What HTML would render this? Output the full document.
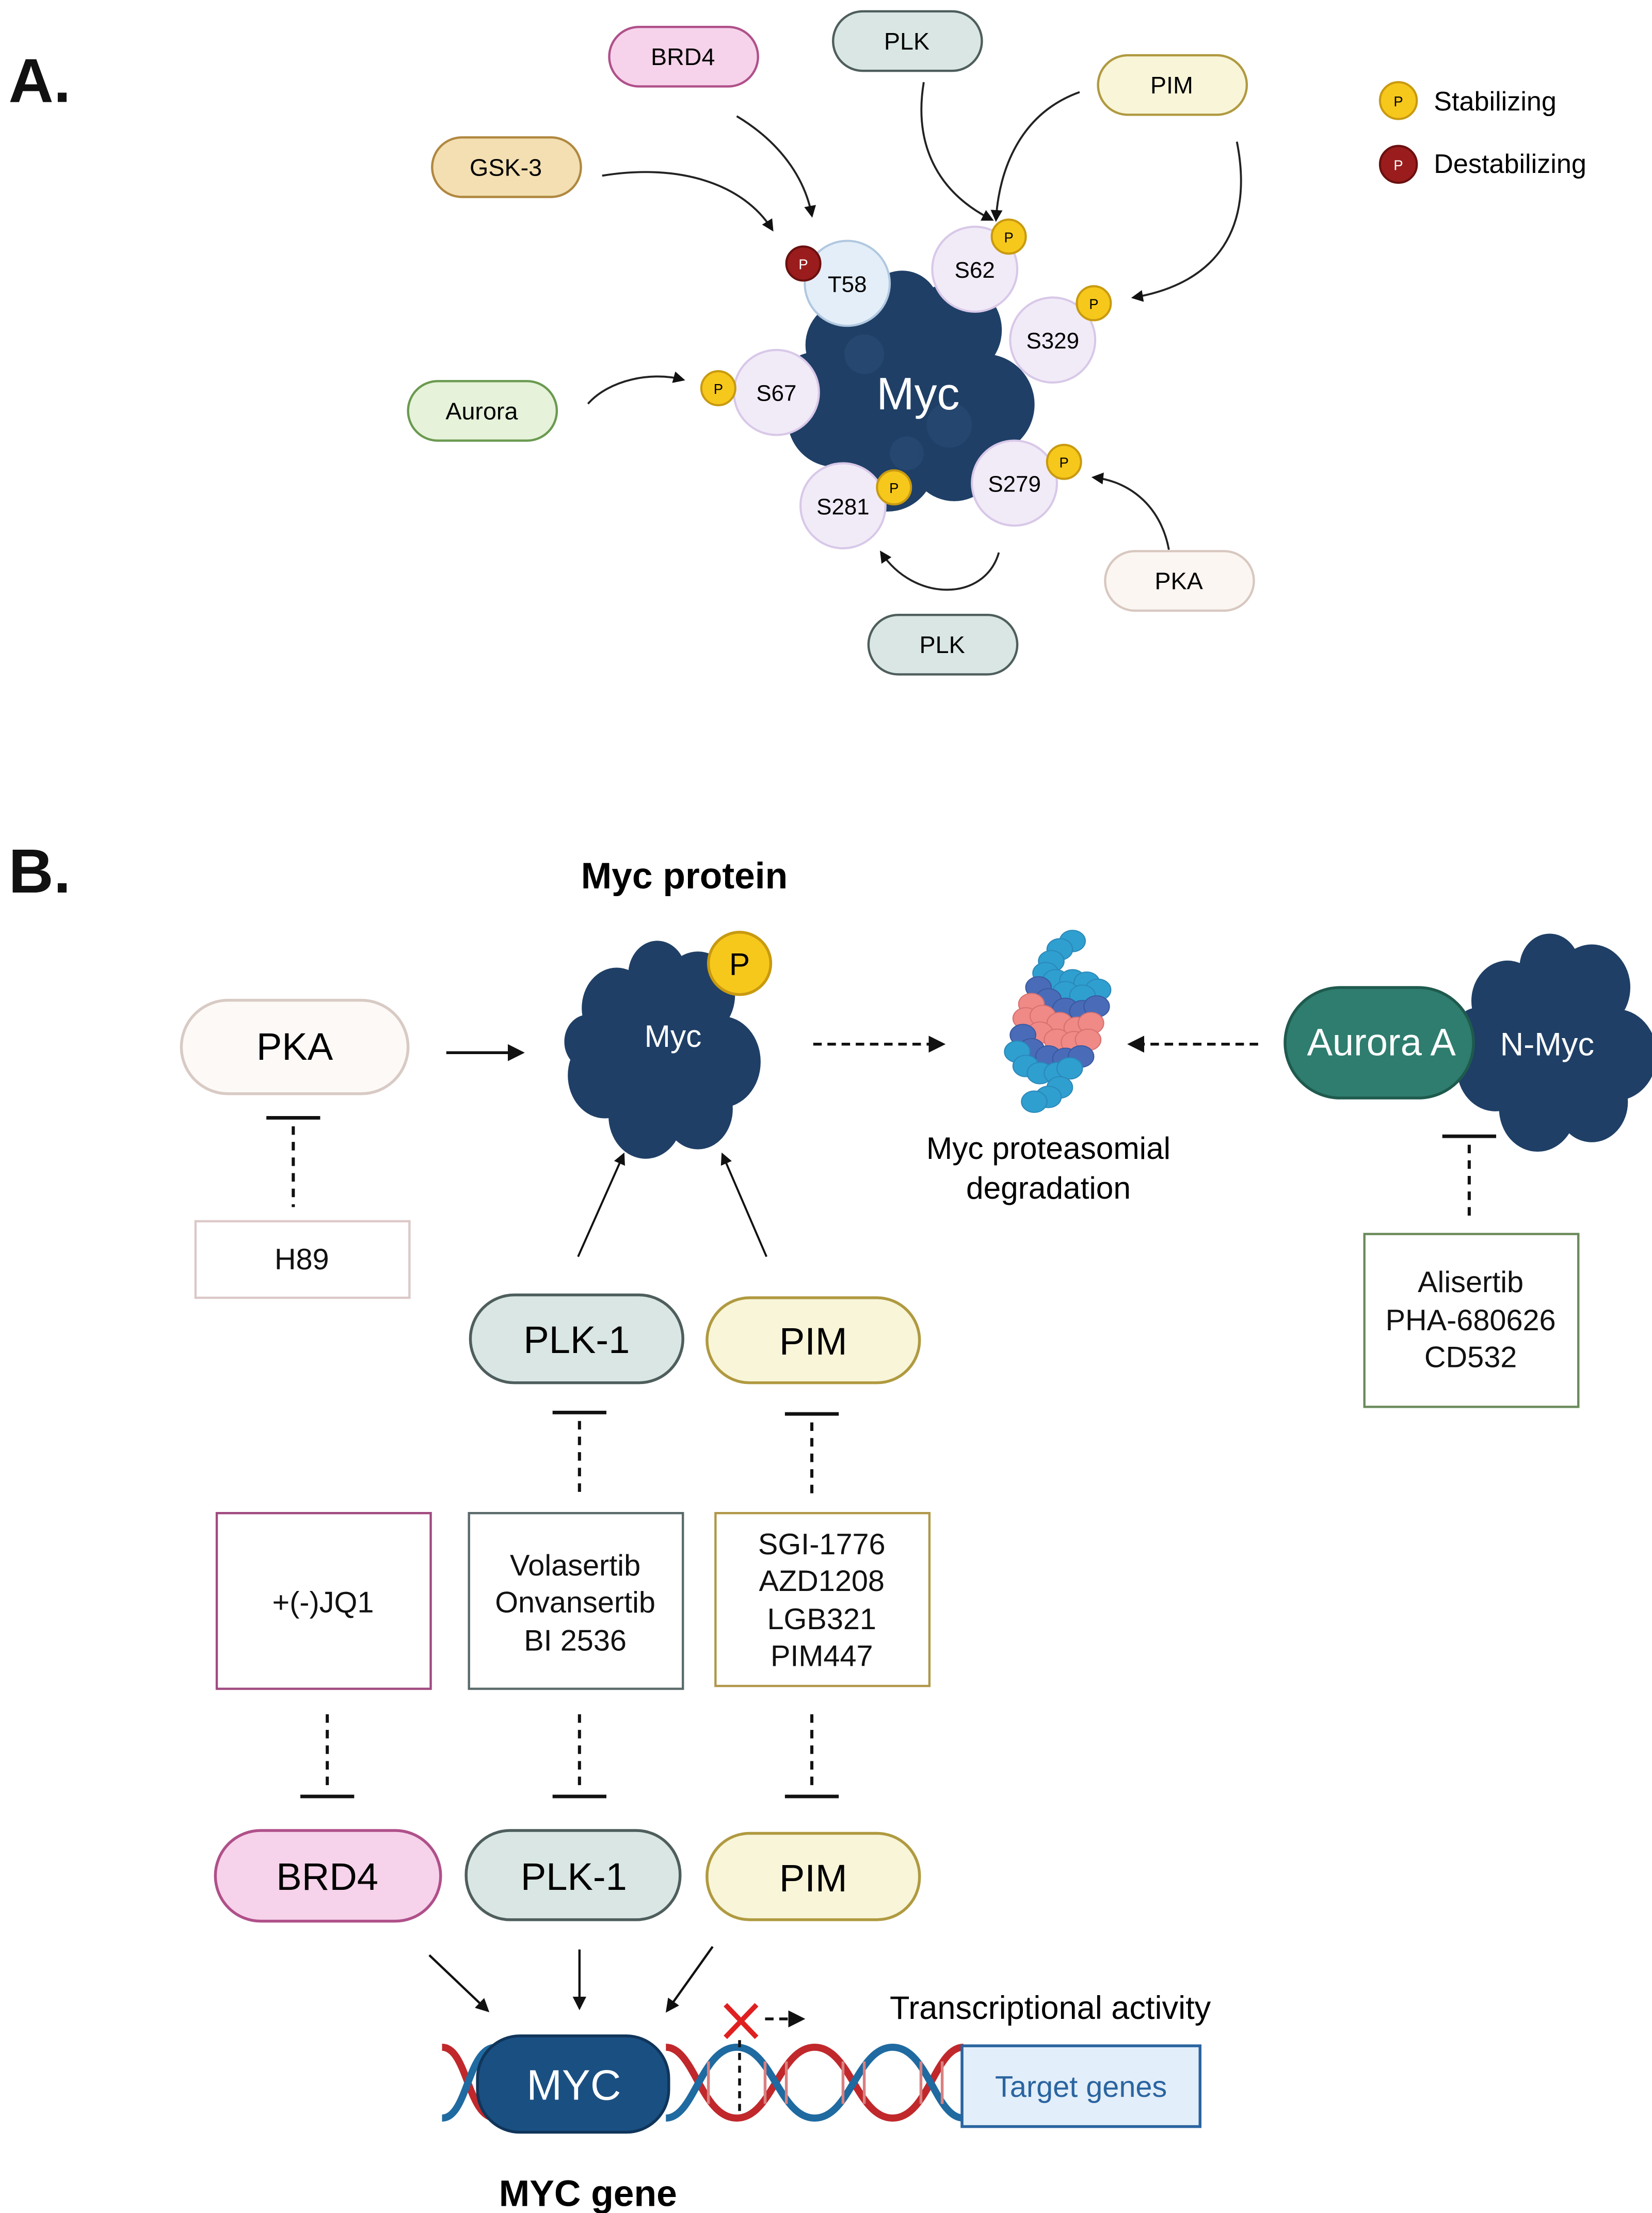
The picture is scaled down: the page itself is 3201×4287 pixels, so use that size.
<!DOCTYPE html>
<html><head><meta charset="utf-8"><style>
html,body{margin:0;padding:0;background:#fff}
svg{display:block}
text{font-family:"Liberation Sans",sans-serif}
</style></head><body>
<svg width="3201" height="4287" viewBox="0 0 1166 1562" preserveAspectRatio="none" xmlns="http://www.w3.org/2000/svg">
<defs>
<marker id="ah" viewBox="0 0 10 10" refX="8" refY="5" markerWidth="6" markerHeight="6" orient="auto"><path d="M0,0L10,5L0,10z" fill="#111"/></marker>
<g id="blob">
<circle cx="0" cy="0" r="48" /><circle cx="-40" cy="-30" r="30"/><circle cx="30" cy="-40" r="32"/><circle cx="50" cy="10" r="34"/><circle cx="-50" cy="20" r="32"/><circle cx="-15" cy="50" r="32"/><circle cx="30" cy="45" r="30"/><circle cx="-5" cy="-55" r="25"/><circle cx="-65" cy="-5" r="20"/>
</g>
</defs>
<rect width="1166" height="1562" fill="#fff"/>
<g font-size="14" fill="#111" stroke="none">
<text x="6" y="72" font-size="44" font-weight="bold">A.</text>
<text x="6" y="630" font-size="44" font-weight="bold">B.</text>
</g>

<!-- Panel A arrows -->
<g fill="none" stroke="#222" stroke-width="1.4" marker-end="url(#ah)">
<path d="M425,124 C480,115 525,130 545,162"/>
<path d="M520,82 C550,100 568,125 573,152"/>
<path d="M652,58 C645,100 660,135 700,155"/>
<path d="M762,65 C720,80 705,120 703,155"/>
<path d="M873,100 C885,160 860,200 800,210"/>
<path d="M415,285 C430,268 460,262 482,268"/>
<path d="M825,388 C820,360 800,340 772,337"/>
<path d="M705,390 C695,425 645,425 622,390"/>
</g>

<!-- Panel A pills -->
<g font-size="17" text-anchor="middle" stroke-width="1.6">
<rect x="430" y="19" width="105" height="42" rx="21" fill="#f6d3ea" stroke="#b0508a"/><text x="482" y="46">BRD4</text>
<rect x="588" y="8" width="105" height="42" rx="21" fill="#d9e6e3" stroke="#4e5e5c"/><text x="640" y="35">PLK</text>
<rect x="775" y="39" width="105" height="42" rx="21" fill="#f8f5d8" stroke="#b09a40"/><text x="827" y="66">PIM</text>
<rect x="305" y="97" width="105" height="42" rx="21" fill="#f3dfb2" stroke="#b08840"/><text x="357" y="124">GSK-3</text>
<rect x="288" y="269" width="105" height="42" rx="21" fill="#e6f2d9" stroke="#6a9a50"/><text x="340" y="296">Aurora</text>
<rect x="780" y="389" width="105" height="42" rx="21" fill="#fbf6f2" stroke="#d8c8c0"/><text x="832" y="416">PKA</text>
<rect x="613" y="434" width="105" height="42" rx="21" fill="#d9e6e3" stroke="#4e5e5c"/><text x="665" y="461">PLK</text>
</g>

<!-- Myc blob A -->
<g fill="#1f3f66" transform="translate(642,275) scale(1.05)"><use href="#blob"/></g>
<g fill="#2a4c76" opacity="0.6"><circle cx="610" cy="250" r="14"/><circle cx="670" cy="300" r="16"/><circle cx="640" cy="320" r="12"/></g>
<text x="648" y="289" font-size="32" fill="#fff" text-anchor="middle">Myc</text>

<g font-size="16" text-anchor="middle" stroke-width="1.5">
<circle cx="598" cy="200" r="30" fill="#e4eef8" stroke="#b0c8e0"/><text x="598" y="206">T58</text>
<circle cx="688" cy="190" r="30" fill="#f1ebf8" stroke="#d8c8e8"/><text x="688" y="196">S62</text>
<circle cx="743" cy="240" r="30" fill="#f1ebf8" stroke="#d8c8e8"/><text x="743" y="246">S329</text>
<circle cx="548" cy="277" r="30" fill="#f1ebf8" stroke="#d8c8e8"/><text x="548" y="283">S67</text>
<circle cx="595" cy="357" r="30" fill="#f1ebf8" stroke="#d8c8e8"/><text x="595" y="363">S281</text>
<circle cx="716" cy="341" r="30" fill="#f1ebf8" stroke="#d8c8e8"/><text x="716" y="347">S279</text>
</g>
<g font-size="10" text-anchor="middle" stroke-width="1.5">
<circle cx="567" cy="186" r="12" fill="#9b1c1c" stroke="#6a1010"/><text x="567" y="190" fill="#fff">P</text>
<circle cx="712" cy="167" r="12" fill="#f7c81c" stroke="#c89a10"/><text x="712" y="171">P</text>
<circle cx="772" cy="214" r="12" fill="#f7c81c" stroke="#c89a10"/><text x="772" y="218">P</text>
<circle cx="507" cy="274" r="12" fill="#f7c81c" stroke="#c89a10"/><text x="507" y="278">P</text>
<circle cx="631" cy="344" r="12" fill="#f7c81c" stroke="#c89a10"/><text x="631" y="348">P</text>
<circle cx="751" cy="326" r="12" fill="#f7c81c" stroke="#c89a10"/><text x="751" y="330">P</text>
<circle cx="987" cy="71" r="13" fill="#f7c81c" stroke="#c89a10"/><text x="987" y="75">P</text>
<circle cx="987" cy="116" r="13" fill="#9b1c1c" stroke="#6a1010"/><text x="987" y="120" fill="#fff">P</text>
</g>
<text x="1012" y="78" font-size="19">Stabilizing</text>
<text x="1012" y="122" font-size="19">Destabilizing</text>

<!-- Panel B -->
<text x="483" y="627" font-size="26" font-weight="bold" text-anchor="middle">Myc protein</text>
<g font-size="27" text-anchor="middle" stroke-width="2">
<rect x="128" y="706" width="160" height="66" rx="33" fill="#fdf9f6" stroke="#d8cac4"/><text x="208" y="748">PKA</text>
<rect x="332" y="914" width="150" height="62" rx="31" fill="#d9e6e3" stroke="#4e5e5c"/><text x="407" y="955">PLK-1</text>
<rect x="499" y="916" width="150" height="60" rx="30" fill="#f8f5d8" stroke="#b09a40"/><text x="574" y="956">PIM</text>
<rect x="152" y="1292" width="159" height="64" rx="32" fill="#f6d3ea" stroke="#b0508a"/><text x="231" y="1334">BRD4</text>
<rect x="329" y="1292" width="151" height="63" rx="31" fill="#d9e6e3" stroke="#4e5e5c"/><text x="405" y="1334">PLK-1</text>
<rect x="499" y="1294" width="150" height="61" rx="30" fill="#f8f5d8" stroke="#b09a40"/><text x="574" y="1335">PIM</text>
</g>

<!-- Myc B -->
<g fill="#1f3f66" transform="translate(468,740) scale(0.82,0.95)"><use href="#blob"/></g>
<text x="475" y="739" font-size="22" fill="#fff" text-anchor="middle">Myc</text>
<circle cx="522" cy="680" r="22" fill="#f7c81c" stroke="#c89a10" stroke-width="2"/><text x="522" y="688" font-size="22" text-anchor="middle">P</text>

<!-- N-Myc blob -->
<g fill="#1f3f66" transform="translate(1098,735) scale(0.85,0.95)"><use href="#blob"/></g>
<rect x="907" y="697" width="133" height="78" rx="39" fill="#2e7d6e" stroke="#1f5a4e" stroke-width="2"/>
<text x="975" y="745" font-size="27" fill="#fff" text-anchor="middle">Aurora A</text>
<text x="1092" y="745" font-size="23" fill="#fff" text-anchor="middle">N-Myc</text>

<!-- proteasome -->
<g stroke-width="0.8" transform="translate(0,660) scale(1,0.84) translate(0,-660)">
<g fill="#2f9fd0" stroke="#2a88b8"><circle cx="757" cy="665" r="9"/><circle cx="748" cy="672" r="9"/><circle cx="742" cy="682" r="9"/><circle cx="738" cy="692" r="9"/><circle cx="745" cy="698" r="9"/><circle cx="757" cy="698" r="9"/><circle cx="767" cy="700" r="9"/><circle cx="775" cy="706" r="9"/><circle cx="752" cy="708" r="9"/><circle cx="764" cy="711" r="9"/></g>
<g fill="#4a6cb8" stroke="#3a58a0"><circle cx="733" cy="704" r="9"/><circle cx="740" cy="714" r="9"/><circle cx="752" cy="722" r="9"/><circle cx="764" cy="724" r="9"/><circle cx="774" cy="720" r="9"/></g>
<g fill="#ef8a86" stroke="#d87070"><circle cx="728" cy="718" r="9"/><circle cx="724" cy="730" r="9"/><circle cx="736" cy="728" r="9"/><circle cx="748" cy="734" r="9"/><circle cx="760" cy="738" r="9"/><circle cx="770" cy="734" r="9"/><circle cx="734" cy="742" r="9"/><circle cx="746" cy="748" r="9"/><circle cx="758" cy="750" r="9"/><circle cx="768" cy="748" r="9"/></g>
<g fill="#4a6cb8" stroke="#3a58a0"><circle cx="722" cy="744" r="9"/><circle cx="728" cy="756" r="9"/><circle cx="740" cy="762" r="9"/><circle cx="752" cy="764" r="9"/><circle cx="763" cy="762" r="9"/></g>
<g fill="#2f9fd0" stroke="#2a88b8"><circle cx="718" cy="758" r="9"/><circle cx="724" cy="770" r="9"/><circle cx="734" cy="776" r="9"/><circle cx="746" cy="776" r="9"/><circle cx="755" cy="772" r="9"/><circle cx="748" cy="788" r="9"/><circle cx="740" cy="796" r="9"/><circle cx="730" cy="800" r="9"/></g>
</g>
<text x="740" y="818" font-size="22" text-anchor="middle">Myc proteasomial</text>
<text x="740" y="846" font-size="22" text-anchor="middle">degradation</text>

<!-- arrows B -->
<g fill="none" stroke="#111" stroke-width="2" marker-end="url(#ah)">
<path d="M315,743 L368,743"/>
<path d="M574,737 L665,737" stroke-dasharray="6,4"/>
<path d="M888,737 L798,737" stroke-dasharray="6,4"/>
<path d="M408,887 L440,815" stroke-width="1.4"/>
<path d="M541,887 L510,815" stroke-width="1.4"/>
<path d="M303,1380 L344,1419" stroke-width="1.6"/>
<path d="M409,1376 L409,1417" stroke-width="1.6"/>
<path d="M503,1374 L471,1419" stroke-width="1.6"/>
<path d="M540,1425 L566,1425" stroke-dasharray="6,4"/>
</g>
<!-- inhibition -->
<g stroke="#111" stroke-width="2.5" fill="none">
<path d="M188,789 H226 M1018,802 H1056 M390,997 H428 M554,998 H592 M212,1268 H250 M390,1268 H428 M554,1268 H592"/>
<g stroke-dasharray="6,5" stroke-width="2.2">
<path d="M207,795 V852 M1037,808 V862 M409,1003 V1058 M573,1004 V1058 M231,1210 V1265 M409,1210 V1265 M573,1210 V1265"/>
</g>
</g>
<!-- boxes -->
<g font-size="21" text-anchor="middle" fill="#fff" stroke-width="1.6">
<rect x="138" y="862" width="151" height="54" stroke="#dcc8c8"/>
<rect x="963" y="871" width="151" height="122" stroke="#6a8a5a"/>
<rect x="153" y="1068" width="151" height="124" stroke="#a04a80"/>
<rect x="331" y="1068" width="151" height="124" stroke="#5a6a6a"/>
<rect x="505" y="1068" width="151" height="122" stroke="#b0984a"/>
</g>
<g font-size="21" text-anchor="middle" fill="#111">
<text x="213" y="896">H89</text>
<text x="1038" y="912">Alisertib</text><text x="1038" y="939">PHA-680626</text><text x="1038" y="965">CD532</text>
<text x="228" y="1138">+(-)JQ1</text>
<text x="406" y="1112">Volasertib</text><text x="406" y="1138">Onvansertib</text><text x="406" y="1165">BI 2536</text>
<text x="580" y="1097">SGI-1776</text><text x="580" y="1123">AZD1208</text><text x="580" y="1150">LGB321</text><text x="580" y="1176">PIM447</text>
</g>

<!-- DNA -->
<g fill="none" stroke-width="5">
<path d="M312,1445 C330,1445 330,1495 350,1495 M470,1445 C490,1445 495,1495 520,1495 C545,1495 550,1445 575,1445 C600,1445 605,1495 630,1495 C655,1495 660,1445 680,1445" stroke="#c0282c"/>
<path d="M312,1495 C330,1495 330,1445 350,1445 M470,1495 C490,1495 495,1445 520,1445 C545,1445 550,1495 575,1495 C600,1495 605,1445 630,1445 C655,1445 660,1495 680,1495" stroke="#1f6aa0"/>
</g>
<g stroke="#d88080" stroke-width="2"><path d="M500,1455V1485 M540,1455V1485 M555,1455V1485 M595,1455V1485 M610,1455V1485 M650,1455V1485 M665,1455V1485"/></g>
<rect x="337" y="1437" width="135" height="68" rx="30" fill="#1a4f82" stroke="#10355a" stroke-width="2"/>
<text x="405" y="1482" font-size="30" fill="#fff" text-anchor="middle">MYC</text>
<path d="M522,1440 V1490" stroke="#111" stroke-width="2" stroke-dasharray="5,4"/>
<path d="M512,1415 L534,1438 M534,1415 L512,1438" stroke="#e02020" stroke-width="3.5"/>
<text x="628" y="1425" font-size="23">Transcriptional activity</text>
<rect x="679" y="1444" width="168" height="57" fill="#e2eef9" stroke="#2a64a0" stroke-width="2"/>
<text x="763" y="1480" font-size="21" fill="#2a64a0" text-anchor="middle">Target genes</text>
<text x="415" y="1557" font-size="26" font-weight="bold" text-anchor="middle">MYC gene</text>
</svg>
</body></html>
